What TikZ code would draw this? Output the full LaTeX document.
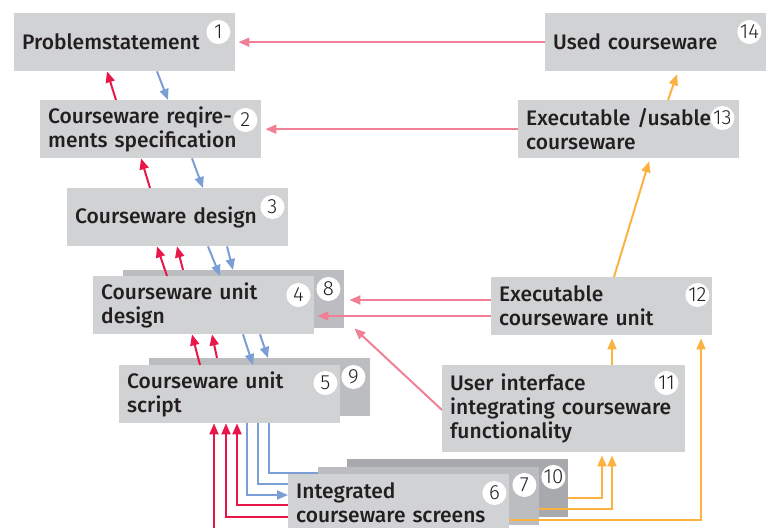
\documentclass[tikz,border=0pt]{standalone}
\usepackage{fontspec}
\setmainfont{Fira Sans}[UprightFont={* Medium}]
\newfontfamily\numfam{Fira Sans}[UprightFont={* Light}]
\usepackage{tikz}
\usetikzlibrary{arrows.meta}

\definecolor{boxgray}{RGB}{209,210,212}
\definecolor{backgray}{RGB}{188,189,192}
\definecolor{darkgray}{RGB}{168,169,172}
\definecolor{textgray}{RGB}{35,31,32}
\definecolor{redline}{RGB}{232,23,74}
\definecolor{blueline}{RGB}{123,158,212}
\definecolor{pinkline}{RGB}{240,128,150}
\definecolor{orangeline}{RGB}{252,178,64}

\newcommand{\boxfont}{\fontsize{21}{24}\selectfont}
\newcommand{\numfont}{\numfam\fontsize{20.5}{20}\selectfont}

\tikzset{
    box/.style={rectangle, fill=boxgray, anchor=north west, minimum height=58pt,
        text width=205pt, inner xsep=8pt, inner ysep=0pt, align=left,
        font=\boxfont, text=textgray},
    backbox/.style={rectangle, fill=backgray, anchor=north west,
        minimum width=221pt, minimum height=58pt, inner sep=0pt},
    num/.style={circle, fill=white, inner sep=0pt, minimum size=24pt,
        font=\numfont, text=textgray},
    arr/.style={line width=2pt, -{Triangle[length=11pt,width=9pt]}},
    redarr/.style={arr, draw=redline},
    bluearr/.style={arr, draw=blueline},
    bluebare/.style={line width=2pt, draw=blueline},
    pinkarr/.style={arr, draw=pinkline},
    orarr/.style={arr, draw=orangeline, shorten >=3pt}
}

\begin{document}
\begin{tikzpicture}[x=1pt, y=-1pt]
        \useasboundingbox (0,0) rectangle (778,527);
        \clip (0,0) rectangle (778,527);

        % left column
        \node[box] (ps) at (14,13) {Problemstatement};
        \node[box] (req) at (40,100) {Courseware reqire-\\ments specification};
        \node[box] (cd) at (67,188) {Courseware design};
        \node[backbox] (udb) at (123,270) {};
        \node[box] (ud) at (93,276) {Courseware unit\\design};
        \node[backbox] (usb) at (149,358) {};
        \node[box] (us) at (119,365) {Courseware unit\\script};
        \node[backbox, fill=darkgray] (scbb) at (347,459) {};
        \node[backbox] (scb) at (318,467) {};
        \node[box] (sc) at (288,474) {Integrated\\courseware screens};

        % right column
        \node[box, minimum height=87pt, text width=227pt] (ui) at (442,365) {User interface\\\mbox{integrating courseware}\\functionality};
        \node[box] (ecu) at (491,277) {Executable\\courseware unit};
        \node[box] (ec) at (518,100) {Executable /usable\\courseware};
        \node[box] (uc) at (545,13) {Used courseware};

        \node[num] (n1) at ([shift={(-17,19)}]ps.north east) {1};
        \node[num] (n2) at ([shift={(-16,20)}]req.north east) {2};
        \node[num] (n3) at ([shift={(-16,19)}]cd.north east) {3};
        \node[num] (n4) at ([shift={(-16,19)}]ud.north east) {4};
        \node[num] (n8) at ([shift={(-16,19)}]udb.north east) {8};
        \node[num] (n5) at ([shift={(-15,18)}]us.north east) {5};
        \node[num] (n9) at ([shift={(-17,19)}]usb.north east) {9};
        \node[num] (n6) at ([shift={(-15,19)}]sc.north east) {6};
        \node[num] (n7) at ([shift={(-15,18)}]scb.north east) {7};
        \node[num] (n10) at ([shift={(-15,18)}]scbb.north east) {10};
        \node[num] (n11) at ([shift={(-19,18)}]ui.north east) {11};
        \node[num] (n12) at ([shift={(-15,18)}]ecu.north east) {12};
        \node[num] (n13) at ([shift={(-17,18)}]ec.north east) {13};
        \node[num] (n14) at ([shift={(-17,19)}]uc.north east) {14};

        \draw[redarr] ([xshift=76pt]req.north west) -- ([xshift=93pt]ps.south west);
        \draw[bluearr] ([xshift=143pt]ps.south west) -- ([xshift=128pt]req.north west);
        \draw[redarr] ([xshift=83pt]cd.north west) -- ([xshift=101pt]req.south west);
        \draw[bluearr] ([xshift=152pt]req.south west) -- ([xshift=136pt]cd.north west);
        \draw[redarr] ([xshift=74pt]ud.north west) -- ([xshift=90pt]cd.south west);
        \draw[redarr] ([xshift=60pt]udb.north west) -- ([xshift=110pt]cd.south west);
        \draw[bluearr] ([xshift=141pt]cd.south west) -- ([xshift=127pt]ud.north west);
        \draw[bluearr] ([xshift=160pt]cd.south west) -- ([xshift=110pt]udb.north west);
        \draw[redarr] ([xshift=81pt]us.north west) -- ([xshift=99pt]ud.south west);
        \draw[redarr] ([xshift=68pt]usb.north west) -- ([xshift=119pt]ud.south west);
        \draw[bluearr] ([xshift=150pt]ud.south west) -- ([xshift=134pt]us.north west);
        \draw[bluearr] ([xshift=167pt]ud.south west) -- ([xshift=119pt]usb.north west);

        % screens back to script
        \coordinate (below) at (214,545);
        \draw[redarr] (below) -- ([xshift=95pt]us.south west);
        \draw[redarr] ([yshift=-43pt]sc.north west) -| ([xshift=107pt]us.south west);
        \draw[redarr] ([yshift=-31pt]sc.north west) -| ([xshift=118pt]us.south west);
        \draw[bluearr] ([xshift=128pt]us.south west) |- ([yshift=-21pt]sc.north west);
        \draw[bluebare] ([xshift=139pt]us.south west) |- ([yshift=-10pt]sc.north west);
        \draw[bluebare] ([xshift=150pt]us.south west) |- ([yshift=-6pt]scb.north west);

        \draw[orarr] ([yshift=-39pt]scbb.north east) -| ([xshift=160pt]ui.south west);
        \draw[orarr] ([yshift=-42pt]scb.north east) -| ([xshift=170pt]ui.south west);
        \draw[orarr] ([yshift=-46pt]sc.north east) -| ([xshift=210pt]ecu.south west);
        \draw[orarr] ([xshift=170pt]ui.north west) -- ([xshift=121pt]ecu.south west);
        \draw[orarr] ([xshift=123pt]ecu.north west) -- ([xshift=132pt]ec.south west);
        \draw[orarr] ([xshift=150pt]ec.north west) -- ([xshift=133pt]uc.south west);

        \draw[pinkarr] (uc.west) -- ([xshift=3pt]ps.east);
        \draw[pinkarr] (ec.west) -- ([xshift=4pt]req.east);
        \draw[pinkarr] ([yshift=-23pt]ecu.north west) -- ([shift={(5pt,-30pt)}]udb.north east);
        \draw[pinkarr] ([yshift=-39pt]ecu.north west) -- ([shift={(3pt,-40pt)}]ud.north east);
        \draw[pinkarr] ([yshift=-45pt]ui.north west) -- ([xshift=10pt]udb.south east);
\end{tikzpicture}
\end{document}
